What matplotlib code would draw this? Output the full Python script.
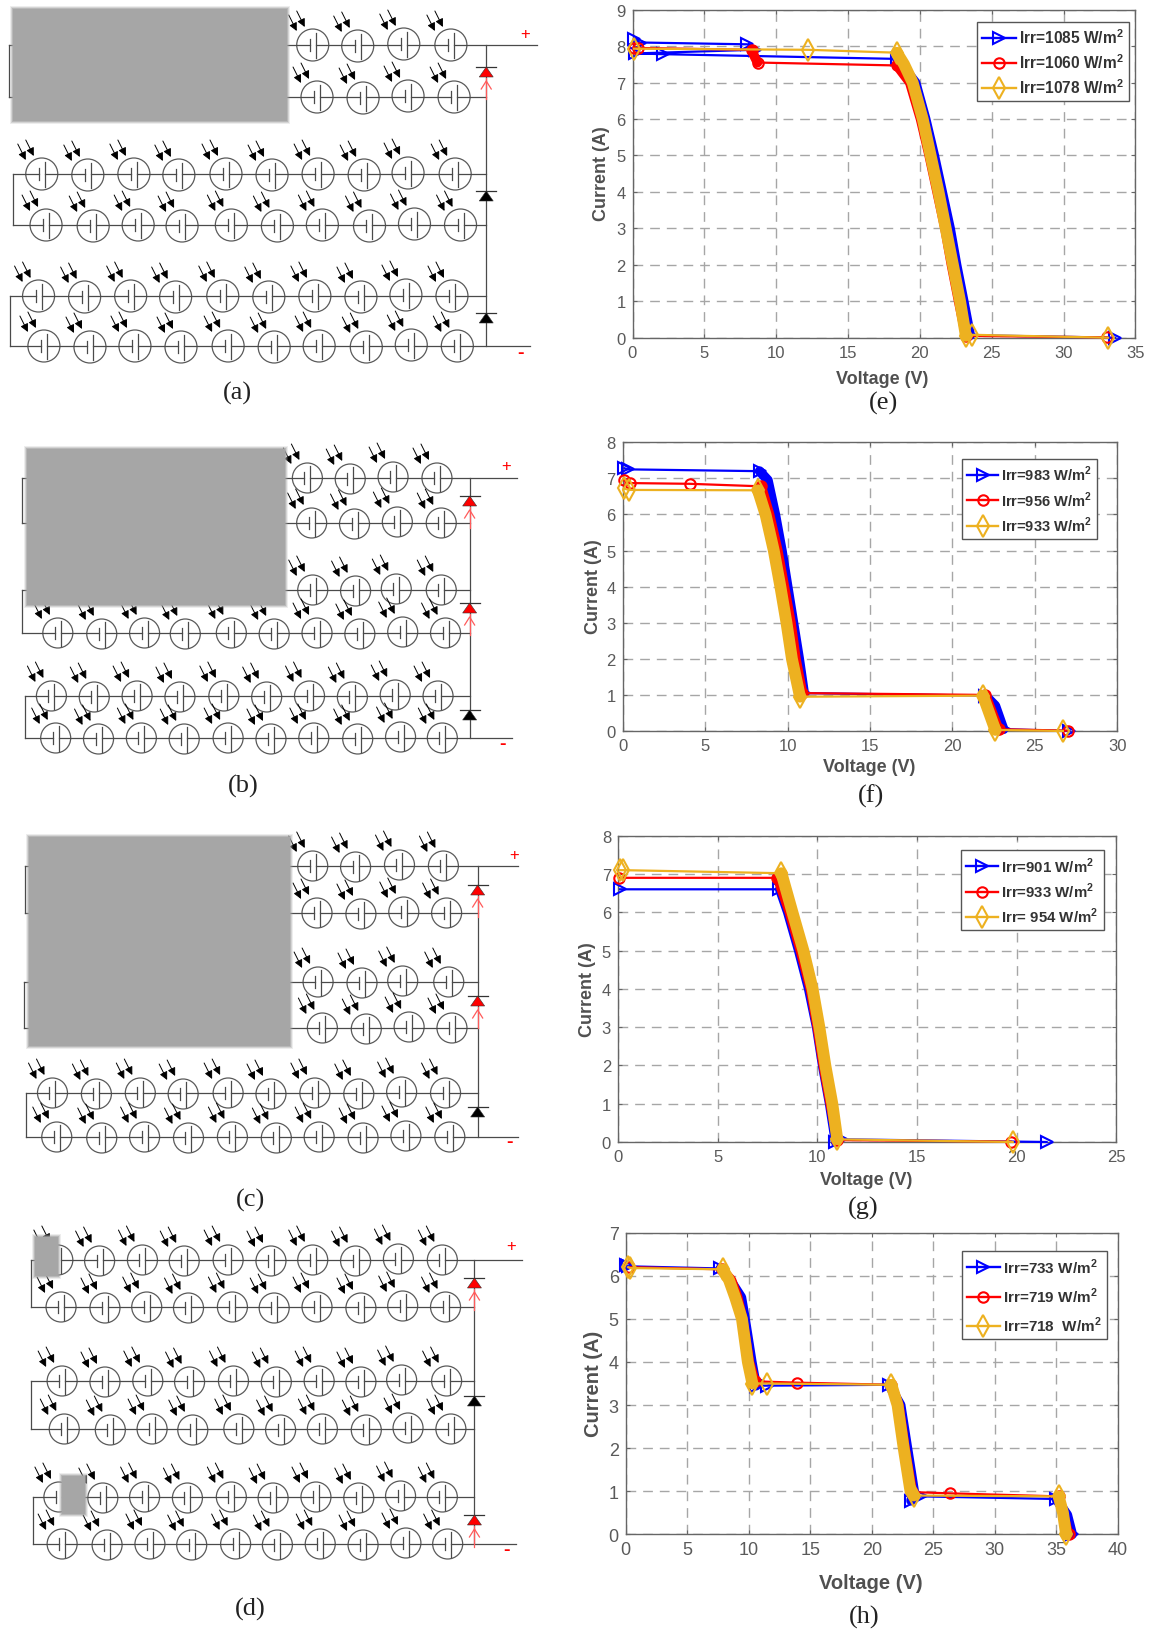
import matplotlib
matplotlib.use('Agg')
import matplotlib.pyplot as plt
from matplotlib.lines import Line2D
from matplotlib.patches import Circle, Polygon, Rectangle

plt.rcParams['font.family'] = ['Liberation Sans', 'DejaVu Sans']
plt.rcParams['mathtext.fontset'] = 'custom'
plt.rcParams['mathtext.bf'] = 'Liberation Sans:bold'
plt.rcParams['mathtext.rm'] = 'Liberation Sans'

XS = 1.071

a_row_y = [46, 98, 175, 226, 297, 347]
a_row_x = [[292, 334, 377, 421],
           [296, 339, 381, 424],
           [39, 82, 125, 167, 211, 254, 297, 340, 381, 425],
           [43, 87, 129, 170, 216, 259, 301, 345, 387, 430],
           [36, 79, 122, 164, 208, 251, 294, 337, 379, 422],
           [41, 84, 126, 169, 213, 256, 298, 342, 384, 427]]
a_loop_x = [8, 12, 9]
a_diode_y = [73, 197, 319]
a_diode_on = [True, False, False]
a_gray = [(12, 10, 268, 122)]

b_row_y = [479, 524, 591, 634, 697, 739]
b_row_x = [[287, 327, 367, 408],
           [291, 331, 371, 412],
           [292, 332, 370, 412],
           [54, 95, 135, 173, 216, 256, 296, 336, 376, 416],
           [48, 88, 128, 168, 209, 249, 289, 329, 369, 409],
           [52, 92, 132, 172, 213, 253, 293, 334, 374, 413]]
b_loop_x = [21, 21, 23]
b_diode_y = [502, 609, 716]
b_diode_on = [True, True, False]
b_gray = [(25, 450, 266, 606)]

c_row_y = [867, 914, 983, 1029, 1094, 1138]
c_row_x = [[292, 332, 373, 414],
           [296, 337, 377, 417],
           [297, 338, 376, 419],
           [301, 342, 382, 422],
           [49, 90, 131, 171, 213, 253, 294, 335, 375, 416],
           [53, 95, 135, 176, 217, 258, 298, 339, 379, 420]]
c_loop_x = [23, 22, 24]
c_diode_y = [891, 1002, 1113]
c_diode_on = [True, True, False]
c_gray = [(27, 838, 271, 1047)]

d_row_y = [1261, 1308, 1382, 1430, 1498, 1545]
d_row_x = [[54, 93, 133, 172, 213, 253, 292, 332, 372, 413],
           [57, 98, 137, 176, 217, 256, 296, 337, 376, 416],
           [58, 98, 138, 177, 218, 258, 298, 337, 375, 417],
           [60, 103, 142, 180, 223, 262, 301, 342, 381, 421],
           [55, 96, 135, 175, 216, 255, 295, 335, 374, 413],
           [58, 100, 140, 179, 220, 259, 299, 339, 379, 418]]
d_loop_x = [29, 29, 31]
d_diode_y = [1284, 1402, 1521]
d_diode_on = [True, False, True]
d_gray = [(33, 1238, 54, 1277), (58, 1477, 79, 1515)]

# ---------- I-V curves ----------
e_blue_v = [0.1, 0.5, 8.0, 8.5, 0.2, 2.1, 18.4, 19.7, 20.4, 21.0, 21.55, 22.1, 22.55, 23.05, 23.5, 33.6]
e_blue_i = [8.2, 8.1, 8.05, 7.9, 7.8, 7.78, 7.65, 7.0, 6.0, 5.0, 4.0, 3.0, 2.0, 1.0, 0.07, 0.0]
e_red_v = [0.1, 0.35, 8.3, 8.45, 8.7, 18.4, 19.3, 20.05, 20.65, 21.2, 21.75, 22.2, 22.7, 23.2, 33.0]
e_red_i = [7.95, 7.95, 7.9, 7.75, 7.55, 7.47, 7.0, 6.0, 5.0, 4.0, 3.0, 2.0, 1.0, 0.05, 0.01]
e_orange_v = [0.1, 12.2, 18.4, 18.9, 19.5, 20.2, 20.75, 21.3, 21.8, 22.3, 22.8, 23.2, 23.6, 33.1]
e_orange_i = [7.93, 7.9, 7.82, 7.5, 7.0, 6.0, 5.0, 4.0, 3.0, 2.0, 1.0, 0.05, 0.08, 0.0]

f_blue_v = [0.1, 0.3, 8.3, 8.8, 9.25, 9.65, 10.0, 10.35, 10.7, 11.0, 22.0, 22.6, 23.1, 27.1]
f_blue_i = [7.28, 7.25, 7.2, 6.95, 6.0, 5.0, 4.0, 3.0, 2.0, 1.05, 0.98, 0.7, 0.05, 0.0]
f_red_v = [0.05, 0.45, 4.05, 8.4, 8.9, 9.4, 9.8, 10.2, 10.5, 10.9, 22.0, 22.8, 27.0]
f_red_i = [6.95, 6.87, 6.85, 6.78, 6.0, 5.0, 4.0, 3.0, 2.0, 1.05, 1.0, 0.05, 0.01]
f_orange_v = [0.05, 0.4, 8.2, 8.66, 9.16, 9.56, 9.93, 10.26, 10.75, 21.85, 22.6, 26.7]
f_orange_i = [6.72, 6.68, 6.67, 6.0, 5.0, 4.0, 3.0, 2.0, 0.95, 0.98, 0.03, 0.0]

g_blue_v = [0.1, 8.1, 8.5, 9.05, 9.55, 9.95, 10.25, 10.6, 10.9, 11.2, 21.5]
g_blue_i = [6.6, 6.6, 6.0, 5.0, 4.0, 3.0, 2.0, 1.0, 0.0, 0.07, 0.0]
g_red_v = [0.05, 8.0, 8.6, 9.15, 9.65, 10.0, 10.3, 10.65, 11.0, 19.7]
g_red_i = [6.9, 6.9, 6.0, 5.0, 4.0, 3.0, 2.0, 1.0, 0.05, 0.01]
g_orange_v = [0.1, 0.25, 8.2, 8.75, 9.3, 9.76, 10.1, 10.4, 10.75, 11.0, 19.8]
g_orange_i = [7.1, 7.1, 7.02, 6.0, 5.0, 4.0, 3.0, 2.0, 1.0, 0.07, 0.0]

h_blue_v = [0.0, 0.2, 7.7, 8.5, 9.4, 9.7, 10.25, 10.6, 11.5, 21.4, 22.35, 22.9, 23.45, 23.2, 24.0, 35.0, 35.9, 36.3]
h_blue_i = [6.25, 6.22, 6.17, 5.9, 5.5, 5.0, 4.0, 3.45, 3.45, 3.47, 3.0, 2.0, 1.0, 0.78, 0.88, 0.82, 0.45, 0.0]
h_red_v = [0.3, 7.8, 8.6, 9.1, 9.5, 10.05, 10.5, 13.9, 21.6, 22.2, 22.7, 23.3, 26.4, 35.2, 36.0]
h_red_i = [6.2, 6.15, 5.9, 5.5, 5.0, 4.0, 3.55, 3.52, 3.47, 3.0, 2.0, 0.98, 0.95, 0.88, 0.0]
h_orange_v = [0.2, 0.35, 7.9, 8.4, 8.9, 9.45, 9.93, 10.3, 11.5, 21.6, 22.1, 22.6, 23.15, 23.4, 35.2, 35.55, 35.8]
h_orange_i = [6.2, 6.18, 6.15, 5.9, 5.5, 5.0, 4.0, 3.5, 3.5, 3.47, 3.0, 2.0, 1.0, 0.9, 0.88, 0.5, 0.0]

e_labels = ['Irr=1085 W/m', 'Irr=1060 W/m', 'Irr=1078 W/m']
f_labels = ['Irr=983 W/m', 'Irr=956 W/m', 'Irr=933 W/m']
g_labels = ['Irr=901 W/m', 'Irr=933 W/m', 'Irr= 954 W/m']
h_labels = ['Irr=733 W/m', 'Irr=719 W/m', 'Irr=718  W/m']

W, H = 1150, 1631
fig = plt.figure(figsize=(W / 100, H / 100), dpi=100)
over = fig.add_axes([0, 0, 1, 1], zorder=5)
over.set_xlim(0, W)
over.set_ylim(H, 0)
over.axis('off')
over.patch.set_alpha(0)

WIRE = '#4a4a4a'
CAP_FS = 19


def cell(x, y, r):
    over.add_patch(Circle((x, y), r, fill=False, ec='#5a5a5a', lw=0.9))
    over.plot([x - 3, x - 3], [y - 6, y + 6], color=WIRE, lw=0.9)
    over.plot([x + 3, x + 3], [y - 12, y + 13], color=WIRE, lw=0.9)
    # two light arrows
    for dx, dy in [(-24, -30), (-16, -34)]:
        over.annotate('', xy=(x + dx + 8, y + dy + 16), xytext=(x + dx, y + dy),
                      arrowprops=dict(arrowstyle='-|>', color='black', lw=0.7, mutation_scale=12,
                                      shrinkA=0, shrinkB=0))


def diode(x, y, on):
    col = 'red' if on else 'black'
    over.plot([x - 10, x + 10], [y - 5, y - 5], color='#333333', lw=0.9)
    over.add_patch(Polygon([(x, y - 5), (x - 7, y + 5), (x + 7, y + 5)], fc=col, ec='#333333', lw=0.4, zorder=4))
    if on:
        over.plot([x, x], [y + 6, y + 27], color='#ff5a5a', lw=0.9, zorder=4)
        over.plot([x - 5, x, x + 5], [y + 17, y + 9, y + 17], color='#ff5a5a', lw=0.9, zorder=4)


def schematic(row_y, row_x, loop_x, diode_y, diode_on, gray, bus, plus, minus, wire_end, r, cap, cap_pos):
    bus = bus * XS
    for k, (y, xs0) in enumerate(zip(row_y, row_x)):
        xs = [x * XS for x in xs0]
        lx = loop_x[k // 2] * XS
        offs = [0, 1, 0, 1, 0, 1, 0, 1, -1, 0][-len(xs):]
        over.plot([lx, xs[0] - 3], [y, y], color=WIRE, lw=0.9)
        for j in range(len(xs) - 1):
            over.plot([xs[j] + 3, xs[j + 1] - 3], [y, y], color=WIRE, lw=0.9)
        end = bus
        if k == 0 or k == 5:
            end = wire_end[k // 5] * XS
        over.plot([xs[-1] + 3, end], [y, y], color=WIRE, lw=0.9)
        for x, o in zip(xs, offs):
            cell(x, y + o, r)
    for k in range(3):
        over.plot([loop_x[k] * XS] * 2, [row_y[2 * k], row_y[2 * k + 1]], color=WIRE, lw=0.9)
    over.plot([bus, bus], [row_y[0], row_y[5]], color=WIRE, lw=0.9)
    for y, on in zip(diode_y, diode_on):
        diode(bus, y, on)
    # grey block with a soft edge
    for x0, y0, x1, y1 in gray:
        x0, x1 = x0 * XS, x1 * XS
        for pad, al in [(3, 0.2), (2, 0.35), (1, 0.6), (0, 1.0)]:
            over.add_patch(Rectangle((x0 - pad, y0 - pad), x1 - x0 + 2 * pad, y1 - y0 + 2 * pad,
                                     fc='#a6a6a6', ec='none', alpha=al, zorder=6))
    over.text(plus[0] * XS, plus[1], '+', color='red', fontsize=12, ha='center', va='center')
    over.text(minus[0] * XS, minus[1], '-', color='red', fontsize=14, fontweight='bold', ha='center', va='center')
    over.text(cap_pos[0] * XS, cap_pos[1], cap, family='Liberation Serif', fontsize=CAP_FS, color='#222222',
              ha='center', va='center')


schematic(a_row_y, a_row_x, a_loop_x, a_diode_y, a_diode_on, a_gray, 454, (490, 34), (486, 353), (501, 495), 16, '(a)', (222, 393))
schematic(b_row_y, b_row_x, b_loop_x, b_diode_y, b_diode_on, b_gray, 438.5, (473, 467), (469, 745), (483, 478), 15, '(b)', (227, 786))
schematic(c_row_y, c_row_x, c_loop_x, c_diode_y, c_diode_on, c_gray, 446, (480, 856), (476, 1143), (484, 484), 15, '(c)', (234, 1200))
schematic(d_row_y, d_row_x, d_loop_x, d_diode_y, d_diode_on, d_gray, 443, (477, 1247), (473, 1551), (487, 482), 15, '(d)', (234, 1609))


def curve(ax, v, i, col, mk, ms, bands, band_w):
    ax.plot(v, i, color=col, lw=1.6, clip_on=False, zorder=3)
    inside = set()
    for s, t in bands:
        ax.plot(v[s:t + 1], i[s:t + 1], color=col, lw=band_w, solid_capstyle='round', clip_on=False, zorder=3)
        inside.update(range(s + 1, t))
    keep = [n for n in range(len(v)) if n not in inside]
    ax.plot([v[n] for n in keep], [i[n] for n in keep], ls='none', marker=mk, ms=ms, mfc='none', mec=col,
            mew=1.5, clip_on=False, zorder=3)


def chart(box, xmax, ymax, xstep, series, labels, leg_pos, xl_pos, yl_pos, cap, cap_pos, tick_fs=12, lab_fs=13,
          leg_fs=11, leg_gap=0.4):
    x0, y0, x1, y1 = box
    ax = fig.add_axes([x0 / W, 1 - y1 / H, (x1 - x0) / W, (y1 - y0) / H])
    ax.set_xlim(0, xmax)
    ax.set_ylim(0, ymax)
    ax.set_xticks(range(0, xmax + 1, xstep))
    ax.set_yticks(range(0, ymax + 1))
    ax.grid(True, color='#a6a6a6', lw=1.0, ls=(0, (7, 5)))
    ax.set_axisbelow(True)
    ax.tick_params(direction='in', length=3, width=0.8, color='#666666', labelcolor='#5a5a5a',
                   labelsize=tick_fs, top=True, right=True, pad=5)
    for sp in ax.spines.values():
        sp.set_color('#666666')
        sp.set_linewidth(1.0)
    cols = ['#0000ff', '#ff0000', '#edb120']
    mks = ['>', 'o', 'd']
    sizes = [9, 7.5, 11]
    handles = []
    for (v, i, bands, bw), c, m, s, lab in zip(series, cols, mks, sizes, labels):
        curve(ax, v, i, c, m, s, bands, bw)
        handles.append(Line2D([0], [0], color=c, lw=1.7, marker=m, ms=s, mfc='none', mec=c, mew=1.5,
                              label=lab + r'$^{\mathbf{2}}$'))
    leg = ax.legend(handles=handles, loc='upper left', bbox_to_anchor=(leg_pos[0] / W, 1 - leg_pos[1] / H),
                    bbox_transform=fig.transFigure, borderaxespad=0, fancybox=False, edgecolor='#555555',
                    framealpha=1, handlelength=2.15, handletextpad=0.2, labelspacing=leg_gap, borderpad=0.35,
                    prop={'weight': 'bold', 'size': leg_fs}, numpoints=1)
    leg.get_frame().set_linewidth(1.0)
    for t in leg.get_texts():
        t.set_color('#333333')
    over.text(xl_pos[0], xl_pos[1], 'Voltage (V)', fontsize=lab_fs, fontweight='bold', color='#505050',
              ha='center', va='center')
    over.text(yl_pos[0], yl_pos[1], 'Current (A)', fontsize=lab_fs, fontweight='bold', color='#505050',
              rotation=90, ha='center', va='center')
    over.text(cap_pos[0], cap_pos[1], cap, family='Liberation Serif', fontsize=CAP_FS, color='#222222',
              ha='center', va='center')


chart((632.5, 10.7, 1135.4, 338.7), 35, 9, 5,
      [(e_blue_v, e_blue_i, [(6, 14)], 7.0), (e_red_v, e_red_i, [(2, 4), (5, 13)], 7.0), (e_orange_v, e_orange_i, [(2, 11)], 8.5)],
      e_labels, (977, 23), (882.5, 379), (602, 174), '(e)', (884, 403), leg_fs=11.2)
chart((622.8, 443.3, 1117.3, 732), 30, 8, 5,
      [(f_blue_v, f_blue_i, [(2, 9), (10, 12)], 7.0), (f_red_v, f_red_i, [(3, 9), (10, 11)], 7.0), (f_orange_v, f_orange_i, [(2, 8), (9, 10)], 8.5)],
      f_labels, (962, 460), (869, 768), (593, 587), '(f)', (870.6, 796), leg_fs=10.5)
chart((618, 836.7, 1116.4, 1143), 25, 8, 5,
      [(g_blue_v, g_blue_i, [(1, 8)], 6.5), (g_red_v, g_red_i, [(1, 8)], 7.0), (g_orange_v, g_orange_i, [(2, 9)], 8.5)],
      g_labels, (960.6, 851), (866, 1181), (588, 990), '(g)', (863, 1208), leg_fs=10.8)
chart((625.7, 1233.7, 1117.7, 1535.3), 40, 7, 5,
      [(h_blue_v, h_blue_i, [(2, 7), (9, 13), (15, 17)], 7.0), (h_red_v, h_red_i, [(1, 6), (8, 11), (13, 14)], 7.0), (h_orange_v, h_orange_i, [(2, 7), (9, 13), (14, 16)], 8.5)],
      h_labels, (961.5, 1252), (870.6, 1584), (593.4, 1384), '(h)', (864, 1617), tick_fs=13, lab_fs=14.5, leg_gap=0.65)

fig.savefig('out.png', dpi=100)
